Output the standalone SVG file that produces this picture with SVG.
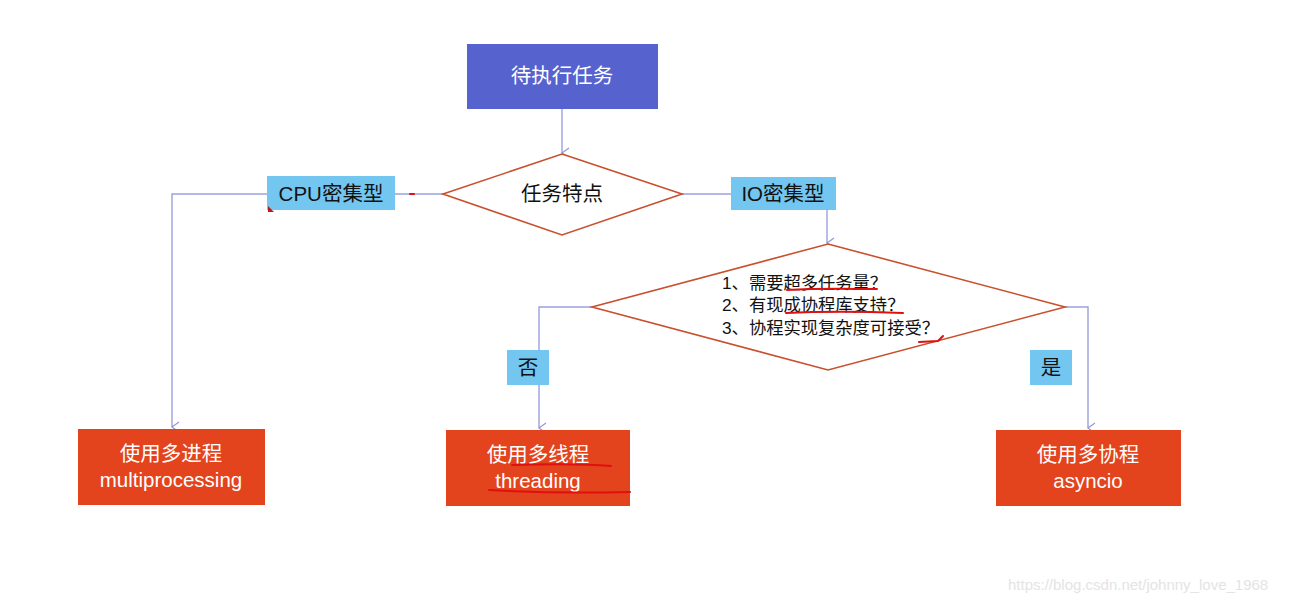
<svg xmlns="http://www.w3.org/2000/svg" width="1293" height="601" viewBox="0 0 1293 601">
<defs>
<marker id="arr" markerWidth="12" markerHeight="12" refX="6" refY="11" orient="auto-start-reverse" markerUnits="userSpaceOnUse" viewBox="0 0 12 12">
<path d="M1,4 L6,11 L11,4" fill="none" stroke="#8f99d8" stroke-width="1.2"/>
</marker>
<style>
text{font-family:"Liberation Sans","Noto Sans CJK SC",sans-serif;}
.c{fill:none;stroke:#9aa2dc;stroke-width:1.4;}
.d{fill:#fff;stroke:#c9502d;stroke-width:1.6;}
.lab{fill:#72c6ef;}
.res{fill:#e3441d;}
.w{fill:#fff;font-size:20.5px;text-anchor:middle;}
.k{fill:#111;font-size:20.5px;text-anchor:middle;}
.q{fill:#111;font-size:17.3px;}
.red{fill:none;stroke:#e01010;stroke-width:2;stroke-linecap:round;}
</style>
</defs>
<rect width="1293" height="601" fill="#fff"/>
<g id="connectors">
<path class="c" d="M562,109 V153" marker-end="url(#arr)"/>
<path class="c" d="M443,194 H395"/>
<path class="c" d="M267,194 H172 V427" marker-end="url(#arr)"/>
<path class="c" d="M682,194 H731"/>
<path class="c" d="M827,210 V243" marker-end="url(#arr)"/>
<path class="c" d="M592,307 H539 V428" marker-end="url(#arr)"/>
<path class="c" d="M1065,307 H1088 V428" marker-end="url(#arr)"/>
</g>
<g id="start">
<rect x="467" y="44" width="191" height="65" fill="#5663cf"/>
<text class="w" x="562" y="83">待执行任务</text>
</g>
<g id="decision1">
<polygon class="d" points="562,154 682,194 562,235 443,194"/>
<text class="k" x="562" y="201">任务特点</text>
</g>
<g id="cpu">
<rect class="lab" x="267" y="176" width="128" height="34"/>
<text class="k" x="331" y="201">CPU密集型</text>
</g>
<g id="io">
<rect class="lab" x="731" y="177" width="105" height="33"/>
<text class="k" x="783" y="201">IO密集型</text>
</g>
<g id="decision2">
<polygon class="d" points="828,244 1065,307 828,370 592,307"/>
<text class="q" x="722" y="289">1、需要超多任务量？</text>
<text class="q" x="722" y="311">2、有现成协程库支持？</text>
<text class="q" x="722" y="334">3、协程实现复杂度可接受？</text>
</g>
<g id="no">
<rect class="lab" x="507" y="350" width="42" height="35"/>
<text class="k" x="528" y="375">否</text>
</g>
<g id="yes">
<rect class="lab" x="1030" y="350" width="42" height="35"/>
<text class="k" x="1051" y="375">是</text>
</g>
<g id="multiprocessing">
<rect class="res" x="78" y="429" width="187" height="76"/>
<text class="w" x="171" y="461">使用多进程</text>
<text class="w" x="171" y="487">multiprocessing</text>
</g>
<g id="threading">
<rect class="res" x="446" y="430" width="184" height="76"/>
<text class="w" x="538" y="462">使用多线程</text>
<text class="w" x="538" y="488">threading</text>
</g>
<g id="asyncio">
<rect class="res" x="996" y="430" width="185" height="76"/>
<text class="w" x="1088" y="462">使用多协程</text>
<text class="w" x="1088" y="488">asyncio</text>
</g>
<g id="marks">
<path class="red" d="M787,290 C820,288 855,289 877,289"/>
<path class="red" d="M786,313 C830,311 875,312 903,313"/>
<path class="red" d="M919,342 L938,341 L943,336"/>
<path class="red" d="M512,465 C550,464 585,464 611,466"/>
<path class="red" d="M489,490 C540,493 590,493 630,492"/>
<path d="M268,206 L268,212 L274,212 Z" fill="#c0181a"/>
<path class="red" d="M410,194 L414,194" stroke-width="2"/>
</g>
<text x="1008" y="590" font-family="Liberation Sans, sans-serif" font-size="15" fill="#e4e4e4">https://blog.csdn.net/johnny_love_1968</text>
</svg>
